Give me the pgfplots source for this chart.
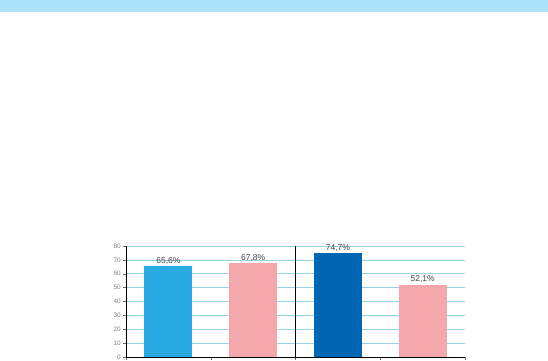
\documentclass[border=0pt]{standalone}
\usepackage{pgfplots}
\pgfplotsset{compat=1.18}
\usepackage{fontspec}
\setmainfont{Liberation Sans}
\definecolor{band}{RGB}{170,226,250}
\definecolor{gridc}{RGB}{150,212,228}
\definecolor{cA}{RGB}{41,171,226}
\definecolor{cB}{RGB}{245,168,172}
\definecolor{cC}{RGB}{0,102,179}
\definecolor{lab}{RGB}{70,70,70}
\begin{document}
\begin{tikzpicture}[x=1bp,y=1bp]
\useasboundingbox (0,0) rectangle (548,360);
\fill[white] (0,0) rectangle (548,360);
\fill[band] (0,348) rectangle (548,360);
\begin{axis}[
  at={(126bp,3bp)}, anchor=south west,
  scale only axis, width=339bp, height=111bp,
  xmin=-0.5, xmax=3.5, ymin=0, ymax=80,
  ytick={0,10,...,80},
  xtick={-0.5,0.5,1.5,2.5,3.5}, xticklabels={},
  ymajorgrids, grid style={gridc, line width=0.7pt},
  axis x line*=bottom, axis y line*=left,
  axis line style={-, black, line width=0.6pt},
  tick align=outside, major tick length=3bp,
  tick style={black!60, line width=0.4pt},
  yticklabel style={font=\fontsize{6.5}{7}\selectfont, text=gray, inner sep=2pt},
  /pgf/number format/assume math mode=true,
  ybar, bar width=48bp, bar shift=0pt,
  nodes near coords, point meta=explicit symbolic,
  nodes near coords style={font=\fontsize{8.5}{9}\selectfont, text=lab, inner sep=1.5pt},
  clip=false,
]
\addplot[fill=cA, draw=none] coordinates {(0,65.6) [65,6\%]};
\addplot[fill=cB, draw=none] coordinates {(1,67.8) [67,8\%]};
\addplot[fill=cC, draw=none] coordinates {(2,74.7) [74,7\%]};
\addplot[fill=cB, draw=none] coordinates {(3,52.1) [52,1\%]};
\draw[black, line width=0.8pt] (axis cs:1.5,0) -- (axis cs:1.5,80);
\end{axis}
\end{tikzpicture}
\end{document}
